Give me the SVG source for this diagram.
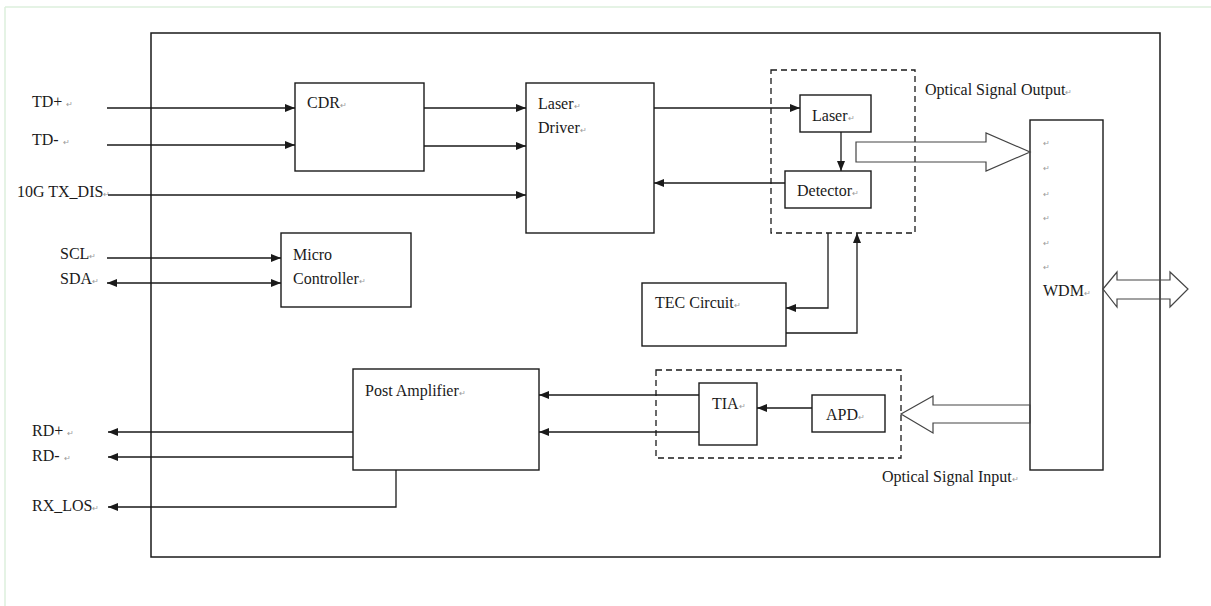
<svg xmlns="http://www.w3.org/2000/svg" width="1211" height="606" viewBox="0 0 1211 606">
<defs>
<style>
.t{font-family:"Liberation Serif","Times New Roman",serif;font-size:16px;fill:#1a1a1a}
.pm{font-family:"Liberation Serif",serif;font-size:8px;fill:#9a9a9a}
.box{fill:#fff;stroke:#1a1a1a;stroke-width:1.4}
.dash{fill:none;stroke:#1a1a1a;stroke-width:1.3;stroke-dasharray:6 4}
.ln{fill:none;stroke:#1a1a1a;stroke-width:1.3}
.ar{fill:none;stroke:#1a1a1a;stroke-width:1.3;marker-end:url(#ah)}
.hol{fill:none;stroke:#444;stroke-width:1.2}
</style>
<marker id="ah" viewBox="0 0 10 8" refX="10" refY="4" markerWidth="10" markerHeight="8" markerUnits="userSpaceOnUse" orient="auto">
<path d="M0,0 L10,4 L0,8 z" fill="#1a1a1a"/>
</marker>
<marker id="ahs" viewBox="0 0 10 8" refX="0" refY="4" markerWidth="10" markerHeight="8" markerUnits="userSpaceOnUse" orient="auto">
<path d="M10,0 L0,4 L10,8 z" fill="#1a1a1a"/>
</marker>
</defs>
<rect width="1211" height="606" fill="#fff"/>
<g id="page-frame">
<line x1="5" y1="7" x2="1211" y2="7" stroke="#dcefdc" stroke-width="1.5"/>
<line x1="5" y1="7" x2="5" y2="606" stroke="#dcefdc" stroke-width="1.5"/>
</g>
<g id="module">
<rect x="151" y="33" width="1009" height="524" fill="none" stroke="#1a1a1a" stroke-width="1.5"/>
</g>
<g id="tx-group">
<rect class="dash" x="771" y="70" width="144" height="163"/>
<text class="t" x="925" y="95">Optical Signal Output<tspan class="pm">↵</tspan></text>
</g>
<g id="rx-group">
<rect class="dash" x="656" y="370" width="245" height="88"/>
<text class="t" x="882" y="482">Optical Signal Input<tspan class="pm">↵</tspan></text>
</g>
<g id="cdr">
<rect class="box" x="295" y="83" width="129" height="88"/>
<text class="t" x="307" y="108">CDR<tspan class="pm">↵</tspan></text>
</g>
<g id="laser-driver">
<rect class="box" x="526" y="83" width="128" height="150"/>
<text class="t" x="538" y="109">Laser<tspan class="pm">↵</tspan></text>
<text class="t" x="538" y="133">Driver<tspan class="pm">↵</tspan></text>
</g>
<g id="micro-controller">
<rect class="box" x="281" y="233" width="130" height="74"/>
<text class="t" x="293" y="260">Micro</text>
<text class="t" x="293" y="284">Controller<tspan class="pm">↵</tspan></text>
</g>
<g id="laser">
<rect class="box" x="800" y="95" width="71" height="37"/>
<text class="t" x="812" y="121">Laser<tspan class="pm">↵</tspan></text>
</g>
<g id="detector">
<rect class="box" x="785" y="171" width="86" height="37"/>
<text class="t" x="797" y="196">Detector<tspan class="pm">↵</tspan></text>
</g>
<g id="tec-circuit">
<rect class="box" x="642" y="283" width="144" height="63"/>
<text class="t" x="655" y="308">TEC Circuit<tspan class="pm">↵</tspan></text>
</g>
<g id="wdm">
<rect class="box" x="1030" y="120" width="73" height="350"/>
<text class="pm" x="1043" y="146">↵</text>
<text class="pm" x="1043" y="171">↵</text>
<text class="pm" x="1043" y="197">↵</text>
<text class="pm" x="1043" y="221">↵</text>
<text class="pm" x="1043" y="246">↵</text>
<text class="pm" x="1043" y="270">↵</text>
<text class="t" x="1043" y="296">WDM<tspan class="pm">↵</tspan></text>
</g>
<g id="post-amplifier">
<rect class="box" x="353" y="369" width="186" height="101"/>
<text class="t" x="365" y="396">Post Amplifier<tspan class="pm">↵</tspan></text>
</g>
<g id="tia">
<rect class="box" x="699" y="383" width="58" height="62"/>
<text class="t" x="712" y="409">TIA<tspan class="pm">↵</tspan></text>
</g>
<g id="apd">
<rect class="box" x="812" y="395" width="73" height="37"/>
<text class="t" x="826" y="420">APD<tspan class="pm">↵</tspan></text>
</g>
<g id="pins">
<text class="t" x="32" y="107">TD+ <tspan class="pm">↵</tspan></text>
<text class="t" x="32" y="145">TD- <tspan class="pm">↵</tspan></text>
<text class="t" x="17" y="197">10G TX_DIS<tspan class="pm">↵</tspan></text>
<text class="t" x="60" y="259">SCL<tspan class="pm">↵</tspan></text>
<text class="t" x="60" y="284">SDA<tspan class="pm">↵</tspan></text>
<text class="t" x="32" y="436">RD+ <tspan class="pm">↵</tspan></text>
<text class="t" x="32" y="461">RD- <tspan class="pm">↵</tspan></text>
<text class="t" x="32" y="511">RX_LOS<tspan class="pm">↵</tspan></text>
</g>
<g id="connectors">
<line class="ar" x1="107" y1="108" x2="295" y2="108"/>
<line class="ar" x1="107" y1="145" x2="295" y2="145"/>
<line class="ar" x1="108" y1="195" x2="526" y2="195"/>
<line class="ar" x1="424" y1="108" x2="526" y2="108"/>
<line class="ar" x1="424" y1="146" x2="526" y2="146"/>
<line class="ar" x1="107" y1="258" x2="281" y2="258"/>
<line class="ar" x1="107" y1="283" x2="281" y2="283" marker-start="url(#ahs)"/>
<line class="ar" x1="654" y1="108" x2="800" y2="108"/>
<line class="ar" x1="785" y1="183" x2="654" y2="183"/>
<line class="ar" x1="841" y1="132" x2="841" y2="171"/>
<polyline class="ar" points="828,233 828,308 786,308"/>
<polyline class="ar" points="786,333 857,333 857,233"/>
<polygon class="hol" points="856,142 986,142 986,133 1030,152 986,171 986,162 856,162"/>
<polygon class="hol" points="1103,289 1117,272 1117,280 1170,280 1170,272 1188,289 1170,307 1170,299 1117,299 1117,307"/>
<polygon class="hol" points="1030,405 933,405 933,396 901,414 933,433 933,423 1030,423"/>
<line class="ar" x1="812" y1="408" x2="757" y2="408"/>
<line class="ar" x1="699" y1="395" x2="539" y2="395"/>
<line class="ar" x1="699" y1="432" x2="539" y2="432"/>
<line class="ar" x1="353" y1="432" x2="108" y2="432"/>
<line class="ar" x1="353" y1="457" x2="108" y2="457"/>
<polyline class="ar" points="396,470 396,507 108,507"/>
</g>
</svg>
